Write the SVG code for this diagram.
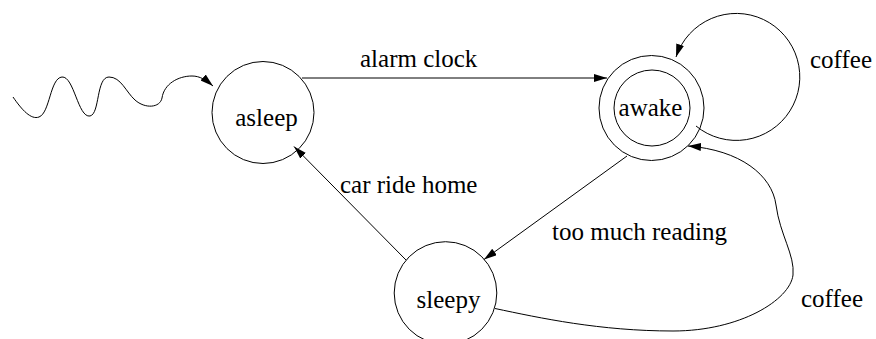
<svg xmlns="http://www.w3.org/2000/svg" width="876" height="339" viewBox="0 0 876 339">
<style>
.st{fill:none;stroke:#000;stroke-width:1}
.lbl{font-family:"Liberation Serif","Times New Roman",serif;font-size:25px;fill:#000}
.nm{text-anchor:middle}
</style>
<defs>
<marker id="ah" markerUnits="userSpaceOnUse" markerWidth="14" markerHeight="9" refX="13" refY="4" orient="auto">
<path d="M0,0 L13,4 L0,8 z" fill="#000"/>
</marker>
</defs>
<rect width="876" height="339" fill="#fff"/>
<g id="connectors">
<path id="start" class="st" marker-end="url(#ah)" d="M13,97 C22,110 31,120 39,117 C50,113 50,78 62,77 C74,76 78,118 90,116 C100,114 96,77 109,77 C121,77 126,92 135,100 C145,109 160,108 162,98 C164,84 178,76 192,76 C200,76 206,80 213,86"/>
<path id="e-alarm" class="st" marker-end="url(#ah)" d="M302,78 L607,78"/>
<path id="e-loop" class="st" marker-end="url(#ah)" d="M696,126 A63.5,63.5 0 1 0 676,57"/>
<path id="e-read" class="st" marker-end="url(#ah)" d="M627,156 L484,259.5"/>
<path id="e-car" class="st" marker-end="url(#ah)" d="M406,260 L294,146.5"/>
<path id="e-coffee2" class="st" marker-end="url(#ah)" d="M495,308.5 C540,318 600,331 673,331 C740,331 790,300 793,275 C795,255 780,235 776,205 C772,175 740,150 688,146"/>
<text class="lbl" x="360" y="67">alarm clock</text>
<text class="lbl" x="810" y="68">coffee</text>
<text class="lbl" x="340" y="193">car ride home</text>
<text class="lbl" x="552" y="240">too much reading</text>
<text class="lbl" x="801" y="307">coffee</text>
</g>
<g id="asleep">
<circle class="st" cx="263" cy="112.5" r="51"/>
<text class="lbl nm" x="266.5" y="126">asleep</text>
</g>
<g id="awake">
<circle class="st" cx="651.5" cy="108" r="52.5"/>
<circle class="st" cx="652" cy="108" r="38"/>
<text class="lbl nm" x="650.5" y="116">awake</text>
</g>
<g id="sleepy">
<circle class="st" cx="445.5" cy="293" r="51.3"/>
<text class="lbl nm" x="448.5" y="308">sleepy</text>
</g>
</svg>
